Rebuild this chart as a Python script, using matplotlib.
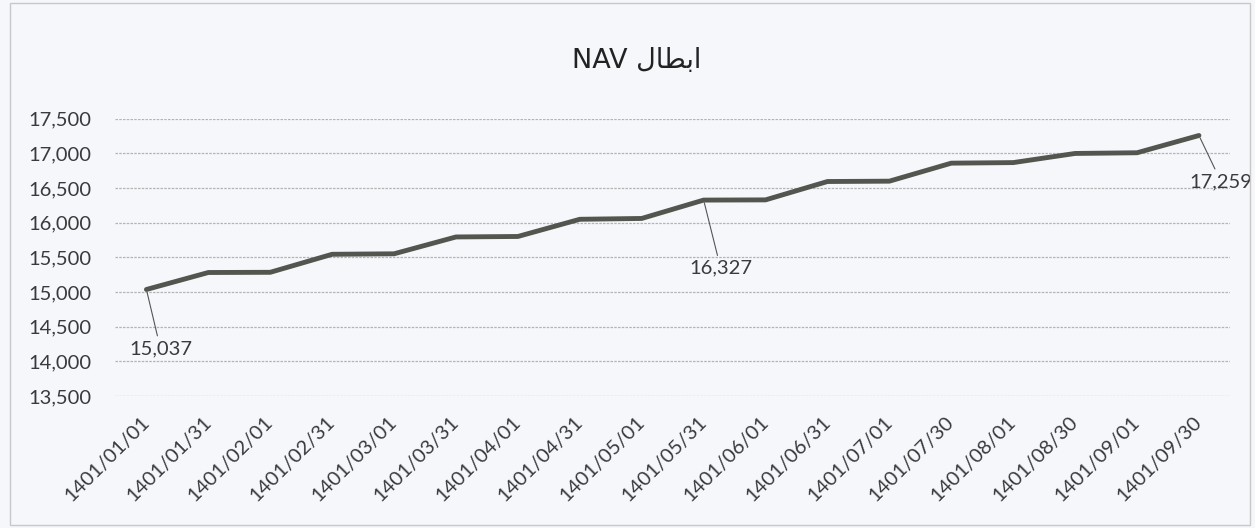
"""NAV redemption chart (ابطال NAV) rebuilt with matplotlib."""
import matplotlib
matplotlib.use("Agg")
import matplotlib.pyplot as plt
from matplotlib.patches import Rectangle
from matplotlib.ticker import FuncFormatter

# data
dates = [
    "1401/01/01", "1401/01/31", "1401/02/01", "1401/02/31", "1401/03/01",
    "1401/03/31", "1401/04/01", "1401/04/31", "1401/05/01", "1401/05/31",
    "1401/06/01", "1401/06/31", "1401/07/01", "1401/07/30", "1401/08/01",
    "1401/08/30", "1401/09/01", "1401/09/30",
]
nav = [
    15037, 15282, 15285, 15545, 15552, 15795, 15802, 16050, 16062, 16327,
    16330, 16595, 16600, 16860, 16868, 17000, 17010, 17259,
]
labelled = [0, 9, 17]
label_offsets = [(14, -59), (17, -68), (22, -46)]  # pixels from the point

# "ابطال NAV" -- Arabic word given in presentation forms, visual order,
# because matplotlib does no Arabic shaping by itself
title = "NAV " + "\uFEDD\uFE8E\uFEC4\uFE91\uFE8D"

BG = "#f5f7fb"
LINE = "#52564f"
GRID = "#b4b4b4"
TXT = "#3a3a3a"

plt.rcParams["font.family"] = ["Lato", "DejaVu Sans"]

fig = plt.figure(figsize=(12.55, 5.28), dpi=100, facecolor=BG)
ax = fig.add_axes([0.092, 0.25, 0.888, 0.525])
ax.set_facecolor(BG)

x = list(range(len(dates)))
ax.plot(x, nav, color=LINE, lw=3.5, solid_capstyle="round", zorder=3)

ax.set_xlim(-0.5, len(dates) - 0.5)
ax.set_ylim(13500, 17500)
ax.set_yticks(range(13500, 17501, 500))
ax.yaxis.set_major_formatter(FuncFormatter(lambda v, p: f"{int(v):,}"))
ax.grid(axis="y", color=GRID, lw=0.9, ls=(0, (2, 1)))
ax.set_axisbelow(True)
for s in ax.spines.values():
    s.set_visible(False)
ax.tick_params(length=0, labelsize=14.5, colors=TXT)
ax.tick_params(axis="y", pad=17)
ax.tick_params(axis="x", pad=17)

ax.set_xticks(x)
ax.set_xticklabels(dates, rotation=45, ha="right", va="center",
                   rotation_mode="anchor")

for i, (dx, dy) in zip(labelled, label_offsets):
    ax.annotate(f"{nav[i]:,}", xy=(i, nav[i]), xytext=(dx, dy),
                textcoords="offset pixels", ha="center", va="center",
                fontsize=14.5, color=TXT,
                arrowprops=dict(arrowstyle="-", color="#555555", lw=0.8,
                                shrinkA=1, shrinkB=2))

fig.text(0.507, 0.885, title, ha="center", va="center", fontsize=19.5,
         color="#222222", family=["DejaVu Sans"])

# chart area border
fig.patches.append(Rectangle((0.008, 0.006), 0.988, 0.988, transform=fig.transFigure,
                             fill=False, ec="#c8c8c8", lw=1.0))

fig.savefig("out.png", dpi=100, facecolor=BG)
